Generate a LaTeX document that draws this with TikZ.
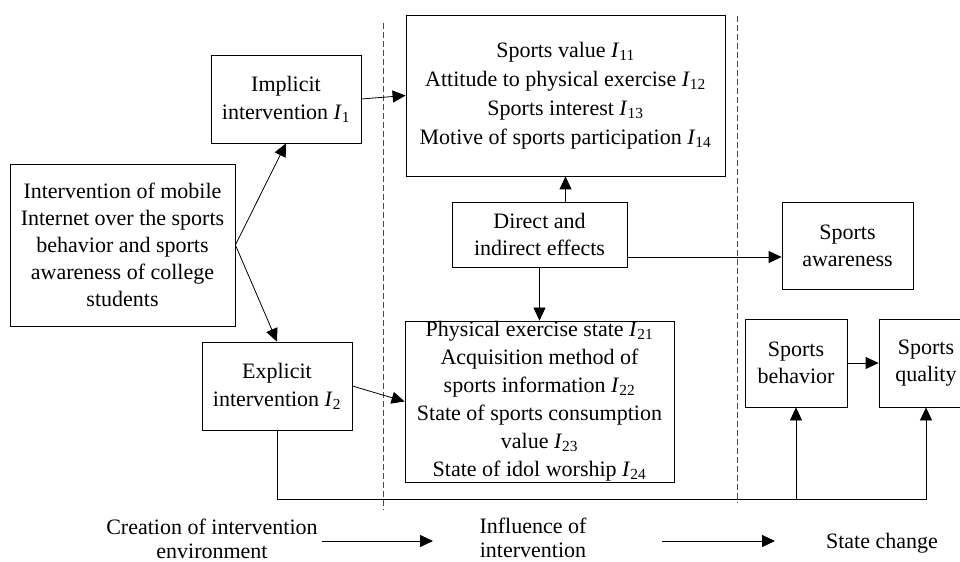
\documentclass[tikz,border=0pt]{standalone}
\usepackage{fontspec}
\setmainfont{Liberation Serif}
\usetikzlibrary{arrows.meta,calc}
\newcommand{\Iv}[1]{\textit{I}\textsubscript{#1}}
\begin{document}
\begin{tikzpicture}[x=1bp,y=-1bp,
  box/.style={draw=black,line width=0.8bp,inner sep=0pt,align=center,font=\fontsize{22bp}{28bp}\selectfont},
  arr/.style={-{Triangle[length=13bp,width=12bp]},line width=0.8bp},
  plain/.style={line width=0.8bp},
  sep/.style={draw=gray!60!black,line width=0.8bp,dash pattern=on 6bp off 3bp},
  lbl/.style={inner sep=0pt,align=center,font=\fontsize{22bp}{24bp}\selectfont}]
\clip (0,0) rectangle (960,562);
\fill[white] (0,0) rectangle (960,562);
% separators
\draw[sep] (383,23) -- (383,510);
\draw[sep] (737,16) -- (737,503);
% boxes
\node[box,minimum width=225bp,minimum height=162bp,font=\fontsize{22bp}{27bp}\selectfont] (main) at (122.5,245) {Intervention of mobile\\Internet over the sports\\behavior and sports\\awareness of college\\students};
\node[box,minimum width=150bp,minimum height=88bp] (impl) at (286,99) {Implicit\\intervention \Iv{1}};
\node[box,minimum width=150bp,minimum height=88bp] (expl) at (277,386) {Explicit\\intervention \Iv{2}};
\node[box,minimum width=319bp,minimum height=161bp,font=\fontsize{22bp}{29bp}\selectfont] (box1) at (565.5,95.5) {Sports value \Iv{11}\\Attitude to physical exercise \Iv{12}\\Sports interest \Iv{13}\\Motive of sports participation \Iv{14}};
\node[box,minimum width=175bp,minimum height=65bp,font=\fontsize{22bp}{27bp}\selectfont] (direct) at (539.5,234.5) {Direct and\\indirect effects};
\node[box,minimum width=131bp,minimum height=87bp,font=\fontsize{22bp}{27bp}\selectfont] (aware) at (847.5,245.5) {Sports\\awareness};
\node[box,minimum width=269bp,minimum height=161bp] (box2) at (539.5,401.5) {Physical exercise state \Iv{21}\\Acquisition method of\\sports information \Iv{22}\\State of sports consumption\\value \Iv{23}\\State of idol worship \Iv{24}};
\node[box,minimum width=102bp,minimum height=88bp,font=\fontsize{22bp}{27bp}\selectfont] (behav) at (796,363) {Sports\\behavior};
\node[box,minimum width=94bp,minimum height=88bp,font=\fontsize{22bp}{27bp}\selectfont] (qual) at (926,363) {Sports\\quality};
% bottom labels
\node[lbl] (create) at (212,539) {Creation of intervention\\environment};
\node[lbl] (infl) at (533,538) {Influence of\\intervention};
\node[lbl] (state) at (882,543) {State change};
\coordinate (b1s) at (322,541);
\coordinate (b1e) at (433,541);
\coordinate (b2s) at (662,541);
\coordinate (b2e) at (775,541);
\coordinate (base) at (0,499);
\coordinate (d1) at ($(direct.east)+(0,22.5)$);
% connectors
\draw[arr] (main.east) -- (impl.south);
\draw[arr] (main.east) -- (expl.north);
\draw[arr] (impl.east) -- (box1.west);
\draw[arr] (expl.east) -- (box2.west);
\draw[arr] (box1.south |- direct.north) -- (box1.south);
\draw[arr] (direct.south) -- (box2.north);
\draw[arr] (d1) -- (d1 -| aware.west);
\draw[arr] (behav.east) -- (qual.west);
\draw[arr] (expl.south) |- (qual.south |- base) -- (qual.south);
\draw[arr] (behav.south |- base) -- (behav.south);
\draw[arr] (b1s) -- (b1e);
\draw[arr] (b2s) -- (b2e);
\end{tikzpicture}
\end{document}
